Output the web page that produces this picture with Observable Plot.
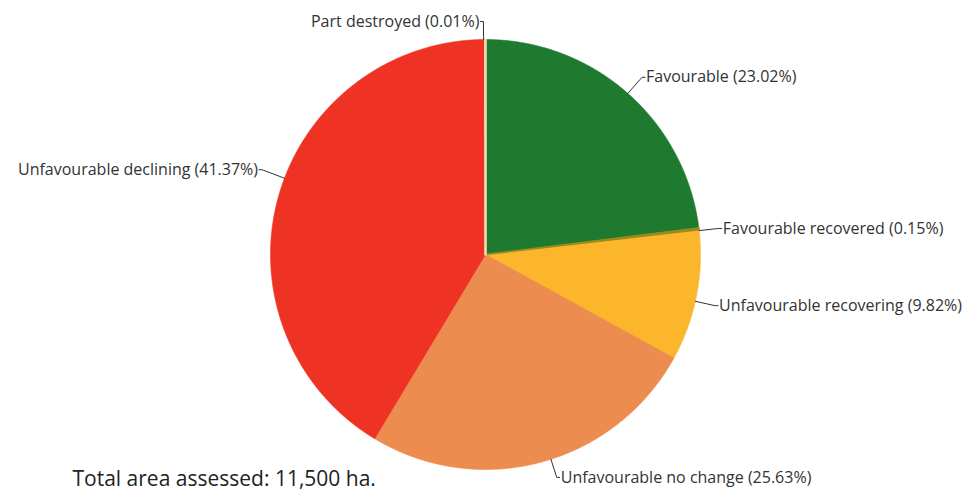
<!DOCTYPE html>
<html>
<head>
<meta charset="utf-8">
<script src="https://cdn.jsdelivr.net/npm/d3@7"></script>
<script src="https://cdn.jsdelivr.net/npm/@observablehq/plot@0.6"></script>
<style>
  html, body { margin: 0; padding: 0; background: #fff; }
  #chart svg { display: block; }
</style>
</head>
<body>
<div id="chart"></div>
<script>
// ---- data ----
const categories = [
  "Favourable",
  "Favourable recovered",
  "Unfavourable recovering",
  "Unfavourable no change",
  "Unfavourable declining",
  "Part destroyed"
];
const shares = [23.02, 0.15, 9.82, 25.63, 41.37, 0.01];
const caption = "Total area assessed: 11,500 ha.";

// ---- styles / layout (kept separate from data) ----
const colors = ["#1e7a2e", "#9a8b1c", "#fbb62b", "#ec8c4f", "#ee3224", "#f3dcb0"];
const labelNudge = [[1, -1], [0, 2], [-1, 6], [10, -4], [3, -22], [-2, 2]]; // px tweaks of label anchor
const R = 215, cx = 485, cy = 254, labelDist = 20;

const arcs = d3.pie().sort(null).value(d => d)(shares);

// slice polygons
const slicePts = [];
arcs.forEach((a, i) => {
  const name = categories[i];
  const n = Math.max(2, Math.ceil((a.endAngle - a.startAngle) / 0.004));
  slicePts.push({name, x: 0, y: 0});
  for (let k = 0; k <= n; k++) {
    const t = a.startAngle + (a.endAngle - a.startAngle) * k / n;
    slicePts.push({name, x: Math.sin(t), y: Math.cos(t)});
  }
  slicePts.push({name, x: 0, y: 0});
});

// labels & leaders
const labels = [];
const leaders = [];
arcs.forEach((a, i) => {
  const name = categories[i];
  const mid = (a.startAngle + a.endAngle) / 2;
  const rr = 1 + labelDist / R;
  const bx = Math.sin(mid) * rr + labelNudge[i][0] / R;
  const by = Math.cos(mid) * rr - labelNudge[i][1] / R;
  const ang = Math.atan2(bx, by);
  const right = bx > 0;
  const hx = bx + (right ? 3 : -3) / R;
  leaders.push({name, x: Math.sin(ang), y: Math.cos(ang)});
  leaders.push({name, x: bx, y: by});
  leaders.push({name, x: hx, y: by});
  labels.push({name, x: hx, y: by, right, text: `${name} (${shares[i].toFixed(2)}%)`});
});

const font = "'Open Sans', 'Noto Sans', sans-serif";

const chart = Plot.plot({
  width: 966,
  height: 492,
  marginTop: 0, marginRight: 0, marginBottom: 0, marginLeft: 0,
  x: {domain: [-1, 1], range: [cx - R, cx + R], axis: null},
  y: {domain: [-1, 1], range: [cy + R, cy - R], axis: null},
  color: {domain: categories, range: colors},
  style: {fontFamily: font, background: "#fff"},
  marks: [
    Plot.line(slicePts, {x: "x", y: "y", z: "name", fill: "name", stroke: "name", strokeWidth: 0.6, curve: "linear"}),
    Plot.line(slicePts.filter(d => d.name === "Favourable recovered"),
      {x: "x", y: "y", z: "name", fill: "name", stroke: "name", strokeWidth: 1.4}),
    Plot.line(slicePts.filter(d => d.name === "Part destroyed"),
      {x: "x", y: "y", z: "name", fill: "name", stroke: "name", strokeWidth: 2.6}),
    Plot.line(leaders, {x: "x", y: "y", z: "name", stroke: "#333", strokeWidth: 1}),
    Plot.text(labels.filter(d => d.right), {x: "x", y: "y", text: "text", textAnchor: "start", dx: 1, fontSize: 16, fill: "#333", lineAnchor: "middle"}),
    Plot.text(labels.filter(d => !d.right), {x: "x", y: "y", text: "text", textAnchor: "end", dx: -1, fontSize: 16, fill: "#333", lineAnchor: "middle"}),
    Plot.text([caption], {text: d => d, frameAnchor: "bottom-left", dx: 72, dy: -13, textAnchor: "start", lineAnchor: "middle", fontSize: 21, fill: "#222"})
  ]
});
document.getElementById("chart").appendChild(chart);
</script>
</body>
</html>
